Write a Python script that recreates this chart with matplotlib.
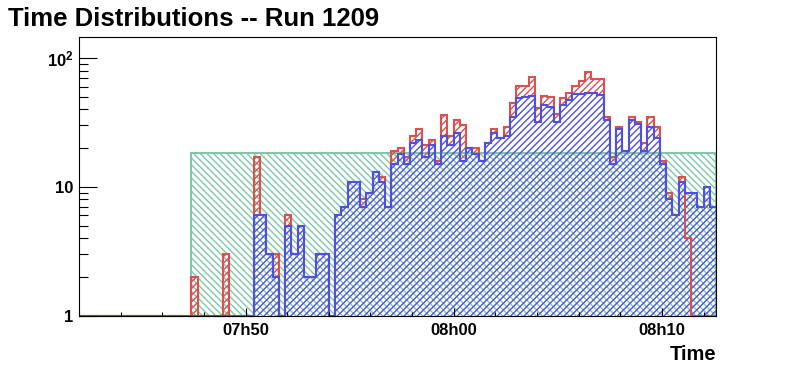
"""
Time distributions for run 1209 (ROOT-style log histogram).
Output: out.png
"""

import numpy as np
import matplotlib
matplotlib.use('Agg')
import matplotlib.pyplot as plt
from matplotlib.ticker import (MultipleLocator, FixedLocator, LogLocator,
                               NullFormatter, FuncFormatter)

plt.rcParams['font.family'] = ['Liberation Sans', 'DejaVu Sans']
plt.rcParams['font.weight'] = 'bold'
plt.rcParams['mathtext.fontset'] = 'custom'
plt.rcParams['mathtext.rm'] = 'Liberation Sans:bold'
plt.rcParams['mathtext.it'] = 'Liberation Sans:bold'
plt.rcParams['hatch.linewidth'] = 1.0

TITLE = 'Time Distributions -- Run 1209'

# --- histogram binning (18 s bins starting 07:42:00) ---
HIST_START = '07:42:00'
BIN_SEC = 18

# --- counts per bin ---
red_counts = [
    0, 0, 0, 0, 0, 0, 0, 0, 0, 0,
    0, 0, 0, 0, 0, 0, 0, 0, 2, 0,
    0, 0, 0, 3, 0, 0, 0, 0, 17, 6,
    3, 3, 0, 6, 3, 5, 2, 2, 3, 3,
    0, 6, 7, 11, 11, 8, 9, 13, 12, 7,
    19, 20, 17, 25, 28, 21, 23, 16, 36, 25,
    33, 30, 20, 20, 16, 22, 28, 24, 29, 45,
    61, 61, 71, 41, 51, 50, 37, 49, 54, 61,
    67, 78, 69, 69, 35, 17, 29, 19, 35, 32,
    22, 35, 29, 16, 9, 6, 12, 4, 0, 0,
    0, 0,
]
blue_counts = [
    0, 0, 0, 0, 0, 0, 0, 0, 0, 0,
    0, 0, 0, 0, 0, 0, 0, 0, 0, 0,
    0, 0, 0, 0, 0, 0, 0, 0, 6, 6,
    3, 2, 0, 5, 3, 5, 2, 2, 3, 3,
    0, 6, 7, 11, 11, 7, 9, 13, 11, 7,
    15, 18, 15, 22, 23, 17, 21, 15, 25, 21,
    26, 16, 20, 18, 16, 22, 26, 24, 25, 35,
    49, 50, 51, 32, 43, 42, 32, 43, 47, 53,
    53, 54, 54, 52, 33, 15, 28, 19, 33, 31,
    19, 29, 24, 15, 8, 6, 11, 9, 9, 7,
    10, 7,
]

# flat reference band
GREEN_START = '07:47:24'
GREEN_LEVEL = 18.2

C_RED = '#dc5050'
C_BLUE = '#5050e0'
C_GREEN = '#7ec8a8'


def to_min(hhmmss):
    h, m, s = (int(v) for v in hhmmss.split(':'))
    return h * 60 + m + s / 60.0


def fmt_time(x, pos):
    m = int(round(x))
    return f'{m // 60:02d}h{m % 60:02d}'


def main():
    red = np.array(red_counts, dtype=float)
    blue = np.array(blue_counts, dtype=float)
    edges = to_min(HIST_START) + np.arange(len(red) + 1) * BIN_SEC / 60.0

    # empty bins sit on the log-axis floor
    red_c = np.clip(red, 1, None)
    blue_c = np.clip(blue, 1, None)

    fig = plt.figure(figsize=(7.96, 3.72), dpi=100)
    ax = fig.add_axes([79 / 796, 1 - 315.7 / 372, 637 / 796, 278.7 / 372])
    ax.set_yscale('log')

    g_edges = [to_min(GREEN_START), edges[-1]]
    ax.stairs([GREEN_LEVEL], g_edges, baseline=1, fill=True,
              hatch='\\\\\\\\\\', facecolor='none', edgecolor=C_GREEN, lw=0)
    ax.stairs([GREEN_LEVEL], g_edges, baseline=1, color=C_GREEN, lw=1.5)

    ax.stairs(blue_c, edges, baseline=1, fill=True, hatch='/////',
              facecolor='none', edgecolor=C_BLUE, lw=0)
    ax.stairs(np.maximum(red_c, blue_c), edges, baseline=blue_c, fill=True,
              hatch='/////', facecolor='none', edgecolor=C_RED, lw=0)

    ax.stairs(red_c, edges, baseline=None, color=C_RED, lw=1.5, clip_on=False)
    ax.stairs(blue_c, edges, baseline=None, color=C_BLUE, lw=1.5, clip_on=False)

    ax.set_xlim(edges[0], edges[-1])
    ax.set_ylim(1, 146)

    ax.xaxis.set_major_locator(MultipleLocator(10))
    ax.xaxis.set_minor_locator(MultipleLocator(2))
    ax.xaxis.set_major_formatter(FuncFormatter(fmt_time))

    ax.yaxis.set_major_locator(FixedLocator([1, 10, 100]))
    ax.yaxis.set_major_formatter(FuncFormatter(
        lambda v, p: {1: '1', 10: '10', 100: '$10^{2}$'}.get(int(round(v)), '')))
    ax.yaxis.set_minor_locator(LogLocator(base=10, subs=np.arange(2, 10)))
    ax.yaxis.set_minor_formatter(NullFormatter())

    ax.tick_params(which='both', direction='in', top=False, right=False,
                   width=0.8, labelsize=12)
    ax.tick_params(axis='y', which='major', length=13, pad=4)
    ax.tick_params(axis='y', which='minor', length=6.5)
    ax.tick_params(axis='x', which='major', length=6, pad=5)
    ax.tick_params(axis='x', which='minor', length=3)
    for sp in ax.spines.values():
        sp.set_linewidth(0.8)

    fig.text(716 / 796, 1 - 354 / 372, 'Time', ha='right', va='center',
             fontsize=14.5, fontweight='bold')
    fig.text(8 / 796, 1 - 19 / 372, TITLE, ha='left', va='center',
             fontsize=18.5, fontweight='bold')

    fig.savefig('out.png', dpi=100)
    plt.close(fig)


if __name__ == '__main__':
    main()
